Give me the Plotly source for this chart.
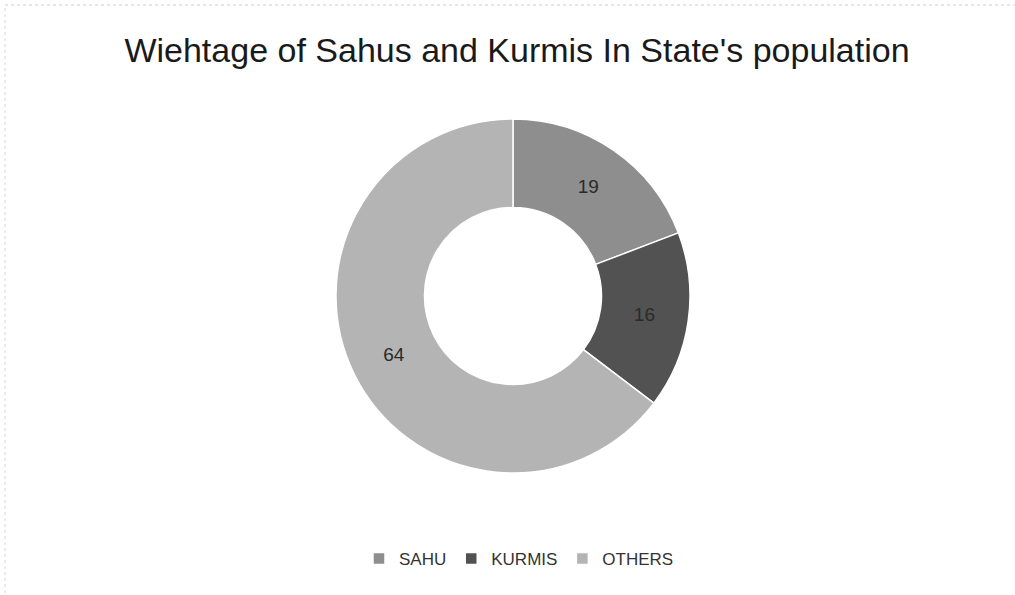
import plotly.graph_objects as go

labels = ["SAHU", "KURMIS", "OTHERS"]
values = [19, 16, 64]
colors = ["#8e8e8e", "#525252", "#b4b4b4"]

W, H = 1015, 595
cx, cy, R = 513, 296, 177

fig = go.Figure(go.Pie(
    labels=labels,
    values=values,
    hole=0.5,
    sort=False,
    direction="clockwise",
    rotation=0,
    marker=dict(colors=colors, line=dict(color="white", width=1.5)),
    textinfo="value",
    textposition="inside",
    insidetextorientation="horizontal",
    textfont=dict(family="Liberation Sans, Arial", size=19, color="#2a2a2a"),
    domain=dict(x=[(cx - R) / W, (cx + R) / W], y=[0, 1]),
    hoverinfo="label+value",
))

top = cy - R
bottom = H - (cy + R)
span = 2 * R
fig.update_layout(
    width=W, height=H,
    margin=dict(l=0, r=0, t=top, b=bottom, autoexpand=False),
    paper_bgcolor="white",
    plot_bgcolor="white",
    font=dict(family="Liberation Sans, Arial", color="#222"),
    title=dict(
        text="Wiehtage of Sahus and Kurmis In State's population",
        x=(122 + 912) / 2 / W, xanchor="center", y=1 - 50 / H, yanchor="middle",
        font=dict(size=34, color="#1a1a1a"),
    ),
    showlegend=True,
    legend=dict(
        orientation="h", x=(370 + 668) / 2 / W, xanchor="center",
        y=-(559 - (cy + R)) / span, yanchor="middle",
        font=dict(size=17, color="#333"),
        itemwidth=30, traceorder="normal",
    ),
    shapes=[
        dict(type="line", xref="paper", yref="paper",
             x0=5 / W, x1=1, y0=1 + (top - 5) / span, y1=1 + (top - 5) / span,
             line=dict(color="#cfcfcf", width=1, dash="dot")),
        dict(type="line", xref="paper", yref="paper",
             x0=5 / W, x1=5 / W, y0=-(bottom - 2) / span, y1=1 + (top - 5) / span,
             line=dict(color="#d8d8d8", width=1, dash="dot")),
    ],
)

fig.write_html("out.html", config={"displayModeBar": False},
               post_script="document.body.style.margin='0';")
